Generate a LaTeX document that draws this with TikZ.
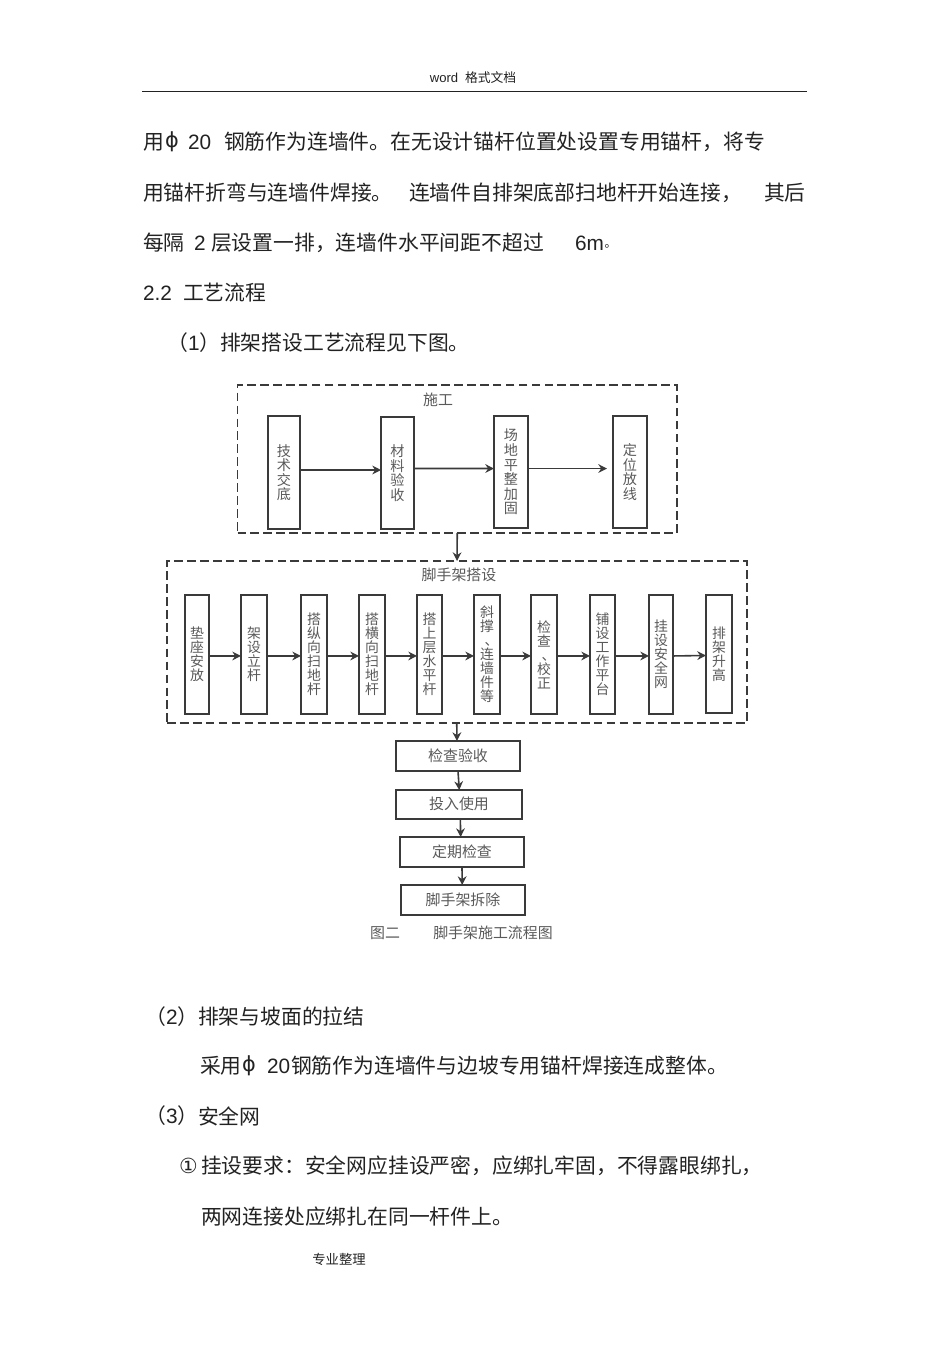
\documentclass[tikz,border=0pt]{standalone}
\usepackage{fontspec}
\setmainfont{Liberation Sans}
\newfontfamily\cjk{Noto Sans CJK SC}
\newfontfamily\dvs{DejaVu Sans}
\usetikzlibrary{arrows.meta}
\definecolor{ink}{HTML}{222222}
\definecolor{lineink}{HTML}{3A3A3A}
\definecolor{boxtext}{HTML}{5A5A5A}
\tikzset{
 boxnode/.style={draw=lineink,line width=1.1pt,inner sep=0pt,outer sep=0pt,align=center,text=boxtext,
   font=\cjk\fontsize{10.4}{10.5}\selectfont},
 toprow/.style={boxnode,font=\cjk\fontsize{10.6}{10.9}\selectfont},
 widebox/.style={boxnode,font=\cjk\fontsize{11.2}{12}\selectfont},
 framebox/.style={draw=lineink,line width=1pt,dash pattern=on 6.5pt off 3.2pt,inner sep=0pt,outer sep=0pt},
 arr/.style={draw=lineink,line width=1.2pt,-{Stealth[length=6.5pt,width=6.5pt]}},
 bodytext/.style={anchor=west,inner sep=0pt,outer sep=0pt,yshift=-0.75pt,text=ink,font=\cjk\fontsize{15.6}{18}\selectfont},
 latintext/.style={anchor=west,inner sep=0pt,outer sep=0pt,yshift=-0.75pt,text=ink,font=\fontsize{15.6}{18}\selectfont},
 smalltext/.style={inner sep=0pt,outer sep=0pt,text=ink,font=\cjk\fontsize{10}{12}\selectfont},
 captext/.style={inner sep=0pt,outer sep=0pt,text=boxtext,font=\cjk\fontsize{11.2}{12}\selectfont},
}
\newcommand\mybox[7][boxnode]{%
 \pgfmathsetmacro\myw{(#5-#3)*0.75}\pgfmathsetmacro\myh{(#6-#4)*0.75}%
 \pgfmathsetmacro\mycx{(#3+#5)/2}\pgfmathsetmacro\mycy{(#4+#6)/2}%
 \node[#1,minimum width=\myw pt,minimum height=\myh pt] (#2) at (\mycx,\mycy) {#7};}
\newcommand\dunhao{\leavevmode\kern3.5pt 、\kern-3.5pt}
\begin{document}
\begin{tikzpicture}[x=0.75pt,y=-0.75pt]
\useasboundingbox[fill=white] (0,0) rectangle (950,1345);
% header
\node[smalltext,text=ink] (hdr1) at (444,78) {\fontsize{9.8}{12}\selectfont\rmfamily word};
\node[smalltext,anchor=west,font=\cjk\fontsize{9.6}{12}\selectfont] (hdr2) at (465,78) {格式文档};
\coordinate (ruleL) at (142,91.5); \coordinate (ruleR) at (807,91.5);
\draw[line width=0.8pt,ink] (ruleL) -- (ruleR);
% top text
\node[bodytext] (a1) at (143,141) {用};
\node[latintext] (a2) at (165,141) {\dvs ϕ};
\node[latintext] (a3) at (188,141) {20};
\node[bodytext] (a4) at (224,141) {钢筋作为连墙件。在无设计锚杆位置处设置专用锚杆，将专};
\node[bodytext] (b1) at (143,192) {用锚杆折弯与连墙件焊接。};
\node[bodytext] (b2) at (409,192) {连墙件自排架底部扫地杆开始连接，};
\node[bodytext] (b3) at (764,192) {其后};
\node[bodytext] (c1t) at (143,242) {每隔};
\node[latintext] (c2t) at (194,242) {2};
\node[bodytext] (c3t) at (211,242) {层设置一排，连墙件水平间距不超过};
\node[latintext] (c4t) at (575,242) {6m};
\node[bodytext,font=\cjk\fontsize{9}{10}\selectfont] (c5t) at (604.5,245) {。};
\node[latintext] (d1) at (143,292) {2.2};
\node[bodytext] (d2) at (183,292) {工艺流程};
\node[bodytext] (e1) at (167,342) {（};
\node[latintext] (e2) at (188,342) {1};
\node[bodytext] (e3) at (199,342) {）};
\node[bodytext] (e4) at (220,342) {排架搭设工艺流程见下图。};
% frames
\mybox[framebox]{f1}{237.5}{385}{677}{533}{}
\mybox[framebox]{f2}{167}{561}{747}{723}{}
\node[captext] (f1t) at (438,400) {施工};
\node[captext] (f2t) at (459,575) {脚手架搭设};
% top row
\mybox[toprow]{p1}{268}{416}{300}{529}{技\\术\\交\\底}
\mybox[toprow]{p2}{381}{417}{414}{529}{材\\料\\验\\收}
\mybox[toprow]{p3}{494}{416}{528}{528}{场\\地\\平\\整\\加\\固}
\mybox[toprow]{p4}{613}{416}{647}{528}{定\\位\\放\\线}
\draw[arr] ([yshift=1.9pt]p1.east) -- ([yshift=2.25pt]p2.west);
\draw[arr] ([yshift=3.4pt]p2.east) -- ([yshift=2.6pt]p3.west);
\draw[arr] ([yshift=2.6pt]p3.east) -- ([xshift=-4.5pt,yshift=2.6pt]p4.west);
% second row
\mybox{q1}{185}{595}{209}{714}{垫\\座\\安\\放}
\mybox{q2}{241}{595}{267}{714}{架\\设\\立\\杆}
\mybox{q3}{301}{595}{327}{714}{搭\\纵\\向\\扫\\地\\杆}
\mybox{q4}{359}{595}{385}{714}{搭\\横\\向\\扫\\地\\杆}
\mybox{q5}{417}{595}{442}{714}{搭\\上\\层\\水\\平\\杆}
\mybox{q6}{474}{595}{500}{714}{斜\\撑\\\dunhao\\连\\墙\\件\\等}
\mybox{q7}{531}{595}{557}{714}{检\\查\\\dunhao\\校\\正}
\mybox{q8}{590}{595}{615}{714}{铺\\设\\工\\作\\平\\台}
\mybox{q9}{649}{595}{673}{714}{挂\\设\\安\\全\\网}
\mybox{q10}{706}{595}{732}{713}{排\\架\\升\\高}
\foreach \i/\j in {q1/q2,q2/q3,q3/q4,q4/q5,q5/q6,q6/q7,q7/q8,q8/q9,q9/q10}
  \draw[arr] ([yshift=-1.1pt]\i.east) -- ([yshift=-1.1pt]\j.west);
% bottom column
\mybox[widebox]{r1}{396}{741}{520}{771}{\raisebox{1.5pt}{检查验收}}
\mybox[widebox]{r2}{396}{790}{522}{819}{\raisebox{1.2pt}{投入使用}}
\mybox[widebox]{r3}{400}{837}{524}{867}{定期检查}
\mybox[widebox]{r4}{401}{885}{525}{915}{\raisebox{0.7pt}{脚手架拆除}}
\draw[arr] (f1.south) -- (f2.north);
\draw[arr] ([xshift=-0.2pt]f2.south) -- ([xshift=-0.75pt]r1.north);
\draw[arr] (r1.south) -- ([xshift=0.2pt]r2.north);
\draw[arr] ([xshift=1pt]r2.south) -- ([xshift=-1pt]r3.north);
\draw[arr] (r3.south) -- ([xshift=-0.6pt]r4.north);
\node[captext] (cp1) at (385,933) {图二};
\node[captext] (cp2) at (493,933) {脚手架施工流程图};
% lower text
\node[bodytext] (g1) at (145,1016) {（};
\node[latintext] (g2) at (166,1016) {2};
\node[bodytext] (g3) at (177,1016) {）};
\node[bodytext] (g4) at (198,1016) {排架与坡面的拉结};
\node[bodytext] (h1) at (200,1065) {采用};
\node[latintext] (h2) at (242,1065) {\dvs ϕ};
\node[latintext] (h3) at (267,1065) {20};
\node[bodytext] (h4) at (291,1065) {钢筋作为连墙件与边坡专用锚杆焊接连成整体。};
\node[bodytext] (i1) at (145,1115) {（};
\node[latintext] (i2) at (166,1115) {3};
\node[bodytext] (i3) at (177,1115) {）};
\node[bodytext] (i4) at (198,1115) {安全网};
\node[latintext] (j1) at (179,1165) {\dvs ①};
\node[bodytext] (j2) at (201,1165) {挂设要求：安全网应挂设严密，应绑扎牢固，不得露眼绑扎，};
\node[bodytext] (k1) at (201,1216) {两网连接处应绑扎在同一杆件上。};
\node[smalltext] (ftr) at (339,1259) {专业整理};
\end{tikzpicture}
\end{document}
